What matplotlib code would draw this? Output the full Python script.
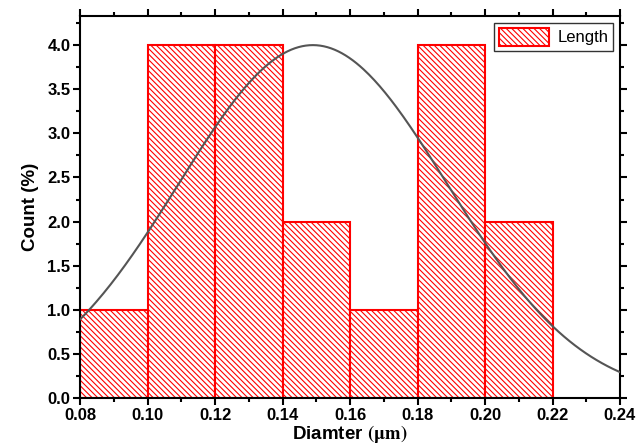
import numpy as np
import matplotlib.pyplot as plt
from matplotlib.ticker import MultipleLocator

plt.rcParams['font.family'] = ['Liberation Sans', 'DejaVu Sans']
plt.rcParams['mathtext.fontset'] = 'stix'
plt.rcParams['hatch.color'] = 'red'
plt.rcParams['hatch.linewidth'] = 0.8

# histogram bins (um) and counts
bin_left = [0.08, 0.10, 0.12, 0.14, 0.16, 0.18, 0.20]
counts = [1, 4, 4, 2, 1, 4, 2]
bin_width = 0.02

# normal fit parameters
fit_mean = 0.149
fit_sigma = 0.0398
fit_peak = 4.0

fig = plt.figure(figsize=(6.37, 4.48), dpi=100)
ax = fig.add_axes([80/637, 50/448, 540/637, 382/448])

ax.bar(bin_left, counts, width=bin_width, align='edge', facecolor='white',
       edgecolor='red', hatch='\\\\\\\\\\\\', linewidth=1.5, label='Length', zorder=2)

xs = np.linspace(0.08, 0.24, 300)
ax.plot(xs, fit_peak*np.exp(-(xs-fit_mean)**2/(2*fit_sigma**2)), color='#555555', lw=1.5, zorder=3)

ax.set_xlim(0.08, 0.24)
ax.set_ylim(0, 4.33)
ax.xaxis.set_major_locator(MultipleLocator(0.02))
ax.xaxis.set_minor_locator(MultipleLocator(0.01))
ax.yaxis.set_major_locator(MultipleLocator(0.5))
ax.yaxis.set_minor_locator(MultipleLocator(0.25))
ax.yaxis.set_major_formatter(plt.FormatStrFormatter('%.1f'))
ax.xaxis.set_major_formatter(plt.FormatStrFormatter('%.2f'))
ax.tick_params(which='both', direction='out', width=1.5, top=True, right=True, labeltop=False, labelright=False)
ax.tick_params(which='major', length=5, labelsize=12, pad=2)
ax.tick_params(which='minor', length=3)
for lab in ax.get_xticklabels() + ax.get_yticklabels():
    lab.set_fontweight('bold')
for s in ax.spines.values():
    s.set_linewidth(1.5)

ax.set_xlabel(r'Diamter $\mathbf{(\mu m)}$', fontsize=13.5, fontweight='bold', labelpad=0)
ax.set_ylabel('Count (%)', fontsize=13.5, fontweight='bold', labelpad=6)

leg = ax.legend(loc='upper right', fancybox=False, edgecolor='black', fontsize=12,
                handlelength=3.0, handleheight=1.3, handletextpad=0.5,
                borderaxespad=0.4, borderpad=0.3)
leg.get_frame().set_linewidth(1.0)

fig.savefig('out.png', dpi=100)
